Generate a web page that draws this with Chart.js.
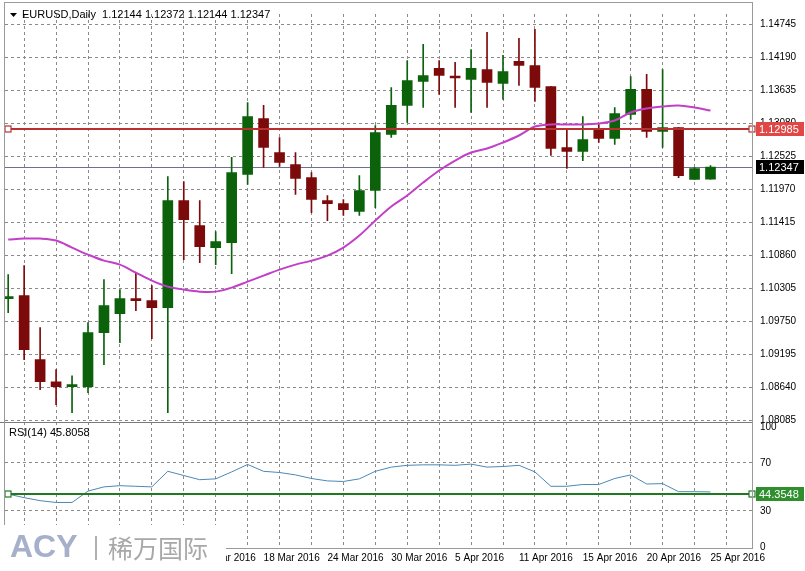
<!DOCTYPE html>
<html><head><meta charset="utf-8">
<script src="https://cdn.jsdelivr.net/npm/chart.js@4"></script>
<style>html,body{margin:0;padding:0;background:#fff}#w{width:805px;height:571px;position:relative}</style>
</head><body><div id="w"><canvas id="c"></canvas></div>
<script>
const dates = ["25 Feb 2016","26 Feb 2016","29 Feb 2016","1 Mar 2016","2 Mar 2016","3 Mar 2016","4 Mar 2016","7 Mar 2016","8 Mar 2016","9 Mar 2016","10 Mar 2016","11 Mar 2016","14 Mar 2016","15 Mar 2016","16 Mar 2016","17 Mar 2016","18 Mar 2016","21 Mar 2016","22 Mar 2016","23 Mar 2016","24 Mar 2016","25 Mar 2016","28 Mar 2016","29 Mar 2016","30 Mar 2016","31 Mar 2016","1 Apr 2016","4 Apr 2016","5 Apr 2016","6 Apr 2016","7 Apr 2016","8 Apr 2016","11 Apr 2016","12 Apr 2016","13 Apr 2016","14 Apr 2016","15 Apr 2016","17 Apr 2016","18 Apr 2016","19 Apr 2016","20 Apr 2016","21 Apr 2016","22 Apr 2016","24 Apr 2016","25 Apr 2016"];
const opens  = [1.10136,1.10187,1.09110,1.08740,1.08656,1.08656,1.09565,1.09884,1.10136,1.10103,1.09985,1.11785,1.11364,1.10994,1.11078,1.12222,1.13164,1.12592,1.12390,1.12171,1.11785,1.11734,1.11600,1.11953,1.12895,1.13383,1.13786,1.14005,1.13854,1.13820,1.13988,1.13753,1.14123,1.14055,1.13702,1.12676,1.12609,1.12996,1.12827,1.13231,1.13652,1.12945,1.13013,1.12138,1.12144];
const highs  = [1.10540,1.10691,1.09649,1.08942,1.08841,1.09733,1.10456,1.10288,1.10574,1.10355,1.12188,1.12104,1.11785,1.11263,1.12510,1.13433,1.13383,1.12845,1.12592,1.12256,1.11869,1.11802,1.12205,1.13046,1.13685,1.14139,1.14409,1.14139,1.14106,1.14324,1.14610,1.14224,1.14510,1.14661,1.13702,1.12979,1.13198,1.13063,1.13349,1.13870,1.13904,1.13988,1.13013,1.12340,1.12372];
const lows   = [1.09901,1.09110,1.08606,1.08353,1.08219,1.08555,1.09026,1.09396,1.09935,1.09463,1.08219,1.10792,1.10742,1.10708,1.10557,1.12054,1.12340,1.12357,1.11886,1.11583,1.11448,1.11533,1.11533,1.11667,1.12844,1.13097,1.13349,1.13568,1.13349,1.13265,1.13349,1.13484,1.13719,1.13450,1.12542,1.12323,1.12457,1.12760,1.12727,1.13147,1.12844,1.12676,1.12171,1.12138,1.12144];
const closes = [1.10170,1.09278,1.08740,1.08656,1.08690,1.09565,1.10019,1.10136,1.10103,1.09985,1.11785,1.11465,1.11011,1.11095,1.12256,1.13198,1.12676,1.12424,1.12155,1.11802,1.11734,1.11633,1.11953,1.12928,1.13383,1.13803,1.13887,1.13887,1.13845,1.14005,1.13769,1.13954,1.14055,1.13685,1.12659,1.12609,1.12811,1.12827,1.13248,1.13652,1.12945,1.13013,1.12205,1.12323,1.12347];
const maValues = [1.11129,1.11146,1.11146,1.11112,1.10994,1.10876,1.10775,1.10708,1.10574,1.10439,1.10338,1.10288,1.10254,1.10254,1.10321,1.10422,1.10523,1.10624,1.10708,1.10775,1.10860,1.10994,1.11196,1.11448,1.11684,1.11869,1.12087,1.12289,1.12457,1.12592,1.12659,1.12760,1.12878,1.13029,1.13063,1.13063,1.13063,1.13080,1.13130,1.13265,1.13332,1.13366,1.13383,1.13349,1.13298];
const rsiValues = [44,41,38.5,37,37,46.5,50,51,50.5,50,63,59.5,56,56.7,62.5,68.7,63,62,60,57,55,54.5,56.7,63,66.5,68,68.4,68.4,68,69,66.5,67,68,62.5,50.5,50.5,52,52,57,60,52.4,52.7,46,46,45.8];
const priceTicks = [1.08085,1.08640,1.09195,1.09750,1.10305,1.10860,1.11415,1.11970,1.12525,1.13080,1.13635,1.14190,1.14745];
const rsiTicks = [0,30,70,100];
const levelLine = 1.12985, lastPrice = 1.12347, rsiLevel = 44.3548;
const title = "EURUSD,Daily  1.12144 1.12372 1.12144 1.12347";
const rsiTitle = "RSI(14) 45.8058";

const GREEN='#0b620b', RED='#7d0a0a';
const col = opens.map((o,i)=> closes[i]>=o ? GREEN : RED);
const F = '"Liberation Sans", Arial, sans-serif';

const deco = {
  id:'deco',
  beforeDatasetsDraw(ch){
    const c=ch.ctx, a=ch.chartArea, y=ch.scales.y;
    c.save();
    c.strokeStyle='#6f6f8f'; c.lineWidth=1;
    let py=Math.round(y.getPixelForValue(lastPrice))+0.5;
    c.beginPath(); c.moveTo(a.left,py); c.lineTo(a.right,py); c.stroke();
    c.restore();
  },
  afterDatasetsDraw(ch){
    const c=ch.ctx, a=ch.chartArea, y=ch.scales.y, r=ch.scales.rsi;
    c.save();
    function hline(v,sc,color,label,bg){
      const p=Math.round(sc.getPixelForValue(v));
      c.strokeStyle=color; c.lineWidth=2;
      c.beginPath(); c.moveTo(a.left,p); c.lineTo(a.right,p); c.stroke();
      c.fillStyle='#fff'; c.lineWidth=1.2;
      [a.left+3,a.right].forEach(x=>{c.fillRect(x-3,p-3,6,6);c.strokeRect(x-3,p-3,6,6);});
      c.fillStyle=bg; c.fillRect(a.right+4,p-7,48,14);
      c.fillStyle='#fff'; c.font='11px '+F; c.textBaseline='middle'; c.textAlign='left';
      c.fillText(label,a.right+7,p+1);
    }
    hline(levelLine,y,'#b83030',levelLine.toFixed(5),'#e04848');
    hline(rsiLevel,r,'#1f7a1f',String(rsiLevel),'#2f8f2f');
    const lp=Math.round(y.getPixelForValue(lastPrice));
    c.fillStyle='#000'; c.fillRect(a.right+4,lp-7,48,14);
    c.fillStyle='#fff'; c.font='11px '+F; c.textBaseline='middle'; c.fillText(lastPrice.toFixed(5),a.right+7,lp+1);
    c.strokeStyle='#7a7a7a'; c.lineWidth=1;
    const sep=Math.round(y.bottom)+0.5;
    c.beginPath(); c.moveTo(0,sep); c.lineTo(a.right,sep); c.stroke();
    c.strokeStyle='#9a9a9a';
    c.strokeRect(Math.round(a.left)-0.5,2.5,Math.round(a.right-a.left)+1,Math.round(a.bottom)-2);
    c.fillStyle='#000'; c.font='11px '+F; c.textBaseline='middle'; c.textAlign='left';
    c.beginPath(); c.moveTo(10,13); c.lineTo(17,13); c.lineTo(13.5,17); c.closePath(); c.fill();
    c.fillText(title,22,15);
    c.fillText(rsiTitle,9,Math.round(r.top)+11);
    c.fillStyle='#fff'; c.fillRect(0,525,226,46);
    c.fillStyle='#a6b0cb'; c.font='bold 32px "Liberation Sans", Arial, sans-serif';
    c.fillText('ACY',10,548);
    c.fillStyle='#b0b0b0'; c.fillRect(95,536,2,24);
    c.fillStyle='#a8a8a8'; c.font='25px "Noto Sans CJK SC", sans-serif';
    c.fillText('稀万国际',108,548);
    c.restore();
  }
};

const grid={color:'#8a8a8a',lineWidth:1,drawTicks:false};
new Chart(document.getElementById('c'),{
  data:{datasets:[
    {type:'bar',grouped:false,order:3,data:dates.map((d,i)=>({x:i,y:[lows[i],highs[i]]})),backgroundColor:col,barThickness:1,yAxisID:'y'},
    {type:'bar',grouped:false,order:2,data:dates.map((d,i)=>({x:i,y:[opens[i],closes[i]]})),backgroundColor:col,borderColor:col,borderWidth:0,barThickness:10,minBarLength:2,yAxisID:'y'},
    {type:'line',order:1,data:maValues.map((v,i)=>({x:i,y:v})),borderColor:'#c23fc8',borderWidth:2,pointRadius:0,tension:0.35,yAxisID:'y'},
    {type:'line',order:1,data:rsiValues.map((v,i)=>({x:i,y:v})),borderColor:'#4a88b8',borderWidth:1,pointRadius:0,tension:0,yAxisID:'rsi'}
  ]},
  options:{
    responsive:true,maintainAspectRatio:false,animation:false,
    layout:{padding:{left:5,top:8,right:0,bottom:0}},
    plugins:{legend:{display:false},tooltip:{enabled:false}},
    scales:{
      x:{type:'linear',min:-0.2,max:46.6,offset:false,
        afterBuildTicks(s){const t=[];for(let i=0;i<=46;i+=2)t.push({value:i});s.ticks=t;},
        afterFit(s){s.height=23;},
        ticks:{autoSkip:false,maxRotation:0,align:'start',padding:4,color:'#000',font:{family:F,size:10},
          callback(v){return (v%4===0 && dates[v])?dates[v]:'';}},
        grid:grid,border:{display:false,dash:[3,3]}},
      y:{position:'right',stack:'p',stackWeight:412,min:1.0806,max:1.1492,
        afterBuildTicks(s){s.ticks=priceTicks.map(v=>({value:v}));},
        afterFit(s){s.width=53;},
        ticks:{padding:8,color:'#000',font:{family:F,size:10},callback(v){return Number(v).toFixed(5);}},
        grid:grid,border:{display:false,dash:[3,3]}},
      rsi:{position:'right',stack:'p',stackWeight:127,min:-1,max:104,
        afterBuildTicks(s){s.ticks=rsiTicks.map(v=>({value:v}));},
        afterFit(s){s.width=53;},
        ticks:{padding:8,color:'#000',font:{family:F,size:10}},
        grid:{...grid,color:c=>(c.tick&&(c.tick.value===30||c.tick.value===70))?'#8a8a8a':'rgba(0,0,0,0)'},
        border:{display:false,dash:[3,3]}}
    }
  },
  plugins:[deco]
});
</script></body></html>
